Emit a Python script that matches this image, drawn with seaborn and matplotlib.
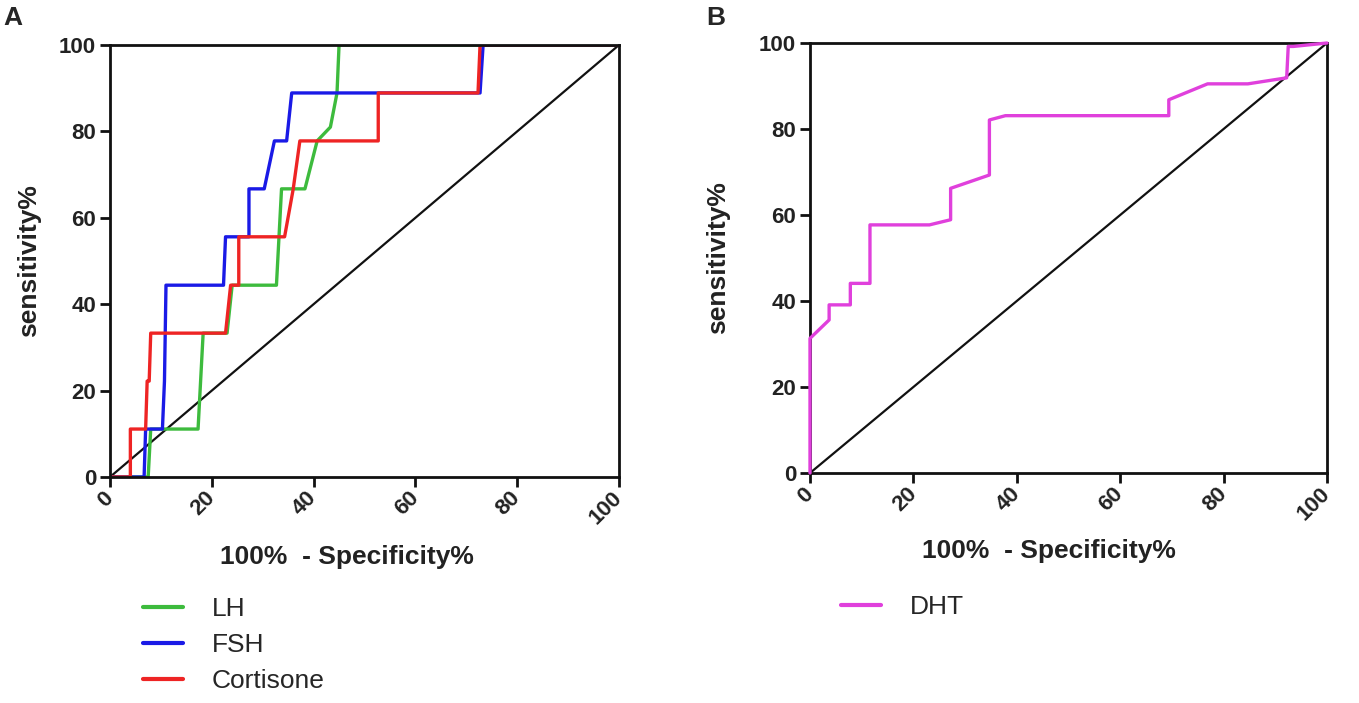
import numpy as np
import pandas as pd
import matplotlib
matplotlib.use("Agg")
import matplotlib.pyplot as plt
import seaborn as sns
from matplotlib.lines import Line2D

sns.set_theme(style="ticks")
plt.rcParams['font.family'] = ['Liberation Sans', 'DejaVu Sans']

# ---- data (percent) ----
lh_x = [0, 7.5, 8.0, 17.3, 18.3, 23.0, 24.0, 32.7, 33.7, 38.3, 40.7, 43.3, 44.6, 45.0, 100]
lh_y = [0, 0, 11.1, 11.1, 33.3, 33.3, 44.4, 44.4, 66.7, 66.7, 77.8, 81.0, 88.9, 100, 100]

fsh_x = [0, 6.7, 7.0, 10.3, 10.7, 11.0, 22.3, 22.7, 27.3, 27.3, 30.3, 32.3, 34.7, 35.7, 72.7, 73.3, 100]
fsh_y = [0, 0, 11.1, 11.1, 22.2, 44.4, 44.4, 55.6, 55.6, 66.7, 66.7, 77.8, 77.8, 88.9, 88.9, 100, 100]

cort_x = [0, 4.0, 4.0, 7.0, 7.3, 7.7, 8.0, 22.7, 23.7, 25.3, 25.3, 34.3, 36.0, 37.3, 52.7, 52.7, 72.3, 72.7, 100]
cort_y = [0, 0, 11.1, 11.1, 22.2, 22.2, 33.3, 33.3, 44.4, 44.4, 55.6, 55.6, 66.7, 77.8, 77.8, 88.9, 88.9, 100, 100]

dht_x = [0, 0, 3.7, 3.7, 7.8, 7.8, 11.6, 11.6, 23.1, 27.2, 27.2, 34.7, 34.7, 37.8, 69.4, 69.4, 76.9, 84.7, 92.2, 92.5, 93.5, 100]
dht_y = [0, 31.3, 35.6, 39.1, 39.1, 44.1, 44.1, 57.7, 57.7, 58.9, 66.2, 69.3, 82.1, 83.1, 83.1, 86.8, 90.5, 90.5, 91.9, 99.2, 99.2, 100]

ref_x = [0, 100]
ref_y = [0, 100]

ticks = [0, 20, 40, 60, 80, 100]
tick_labels = ["0", "20", "40", "60", "80", "100"]

colors = {"LH": "#3dbb3d", "FSH": "#1a1ae6", "Cortisone": "#ee2424", "DHT": "#e040dc"}

def frame(name, xs, ys):
    return pd.DataFrame({"x": xs, "y": ys, "series": name, "order": np.arange(len(xs))})

df_a = pd.concat([frame("LH", lh_x, lh_y), frame("FSH", fsh_x, fsh_y),
                  frame("Cortisone", cort_x, cort_y)], ignore_index=True)
df_b = frame("DHT", dht_x, dht_y)
df_ref = frame("ref", ref_x, ref_y)

W, H = 1359, 703
fig = plt.figure(figsize=(W / 100, H / 100), dpi=100)
axA = fig.add_axes([110 / W, 1 - 477 / H, 509 / W, 432 / H])
axB = fig.add_axes([810 / W, 1 - 473 / H, 517 / W, 430 / H])

def style(ax, ylab_x, xlab_pos):
    ax.set_xlim(0, 100)
    ax.set_ylim(0, 100)
    ax.set_xticks(ticks)
    ax.set_yticks(ticks)
    ax.set_xticklabels(tick_labels, rotation=45, ha="right", va="center",
                       rotation_mode="anchor", fontsize=16, fontweight="bold", color="#222222")
    ax.set_yticklabels(tick_labels, fontsize=16, fontweight="bold", color="#222222")
    ax.tick_params(axis="both", length=7, width=2, color="#111111", pad=3)
    ax.tick_params(axis="x", pad=6)
    for sp in ax.spines.values():
        sp.set_visible(True)
        sp.set_linewidth(2.0)
        sp.set_color("#111111")
    ax.set_ylabel("sensitivity%", fontsize=19, fontweight="bold", color="#222222", va="center")
    ax.yaxis.set_label_coords(ylab_x, 0.5)
    ax.set_xlabel("100%  - Specificity%", fontsize=19, fontweight="bold", color="#222222", va="center")
    ax.xaxis.set_label_coords(*xlab_pos)
    ax.set_facecolor("white")

for ax in (axA, axB):
    sns.lineplot(data=df_ref, x="x", y="y", color="#111111", linewidth=1.6,
                 sort=False, estimator=None, ax=ax, legend=False)

sns.lineplot(data=df_a, x="x", y="y", hue="series", palette=colors,
             hue_order=["LH", "FSH", "Cortisone"], units="series", estimator=None,
             sort=False, linewidth=2.4, ax=axA, legend=False)
sns.lineplot(data=df_b, x="x", y="y", hue="series", palette=colors, estimator=None,
             sort=False, linewidth=2.4, ax=axB, legend=False)

# DHT curve drawn over the frame (visible along x = 0), panel A curves under it
for ln in axB.get_lines()[1:]:
    ln.set_zorder(3)
    ln.set_clip_on(False)

style(axA, -0.160, (0.466, -0.185))
style(axB, -0.178, (0.462, -0.181))

hA = [Line2D([], [], color=colors[n], lw=3) for n in ["LH", "FSH", "Cortisone"]]
fig.legend(hA, ["LH", "FSH", "Cortisone"], loc="upper left",
           bbox_to_anchor=(143 / W, 1 - 597 / H), frameon=False,
           handlelength=1.5, handletextpad=1.1, labelspacing=0.45, borderpad=0,
           borderaxespad=0, prop={"size": 19})
hB = [Line2D([], [], color=colors["DHT"], lw=3)]
fig.legend(hB, ["DHT"], loc="upper left",
           bbox_to_anchor=(841 / W, 1 - 595 / H), frameon=False,
           handlelength=1.5, handletextpad=1.1, borderpad=0,
           borderaxespad=0, prop={"size": 19})

fig.text(13 / W, 1 - 18 / H, "A", fontsize=19, fontweight="bold", ha="center", va="center")
fig.text(716 / W, 1 - 18 / H, "B", fontsize=19, fontweight="bold", ha="center", va="center")

fig.savefig("out.png", dpi=100, facecolor="white")
